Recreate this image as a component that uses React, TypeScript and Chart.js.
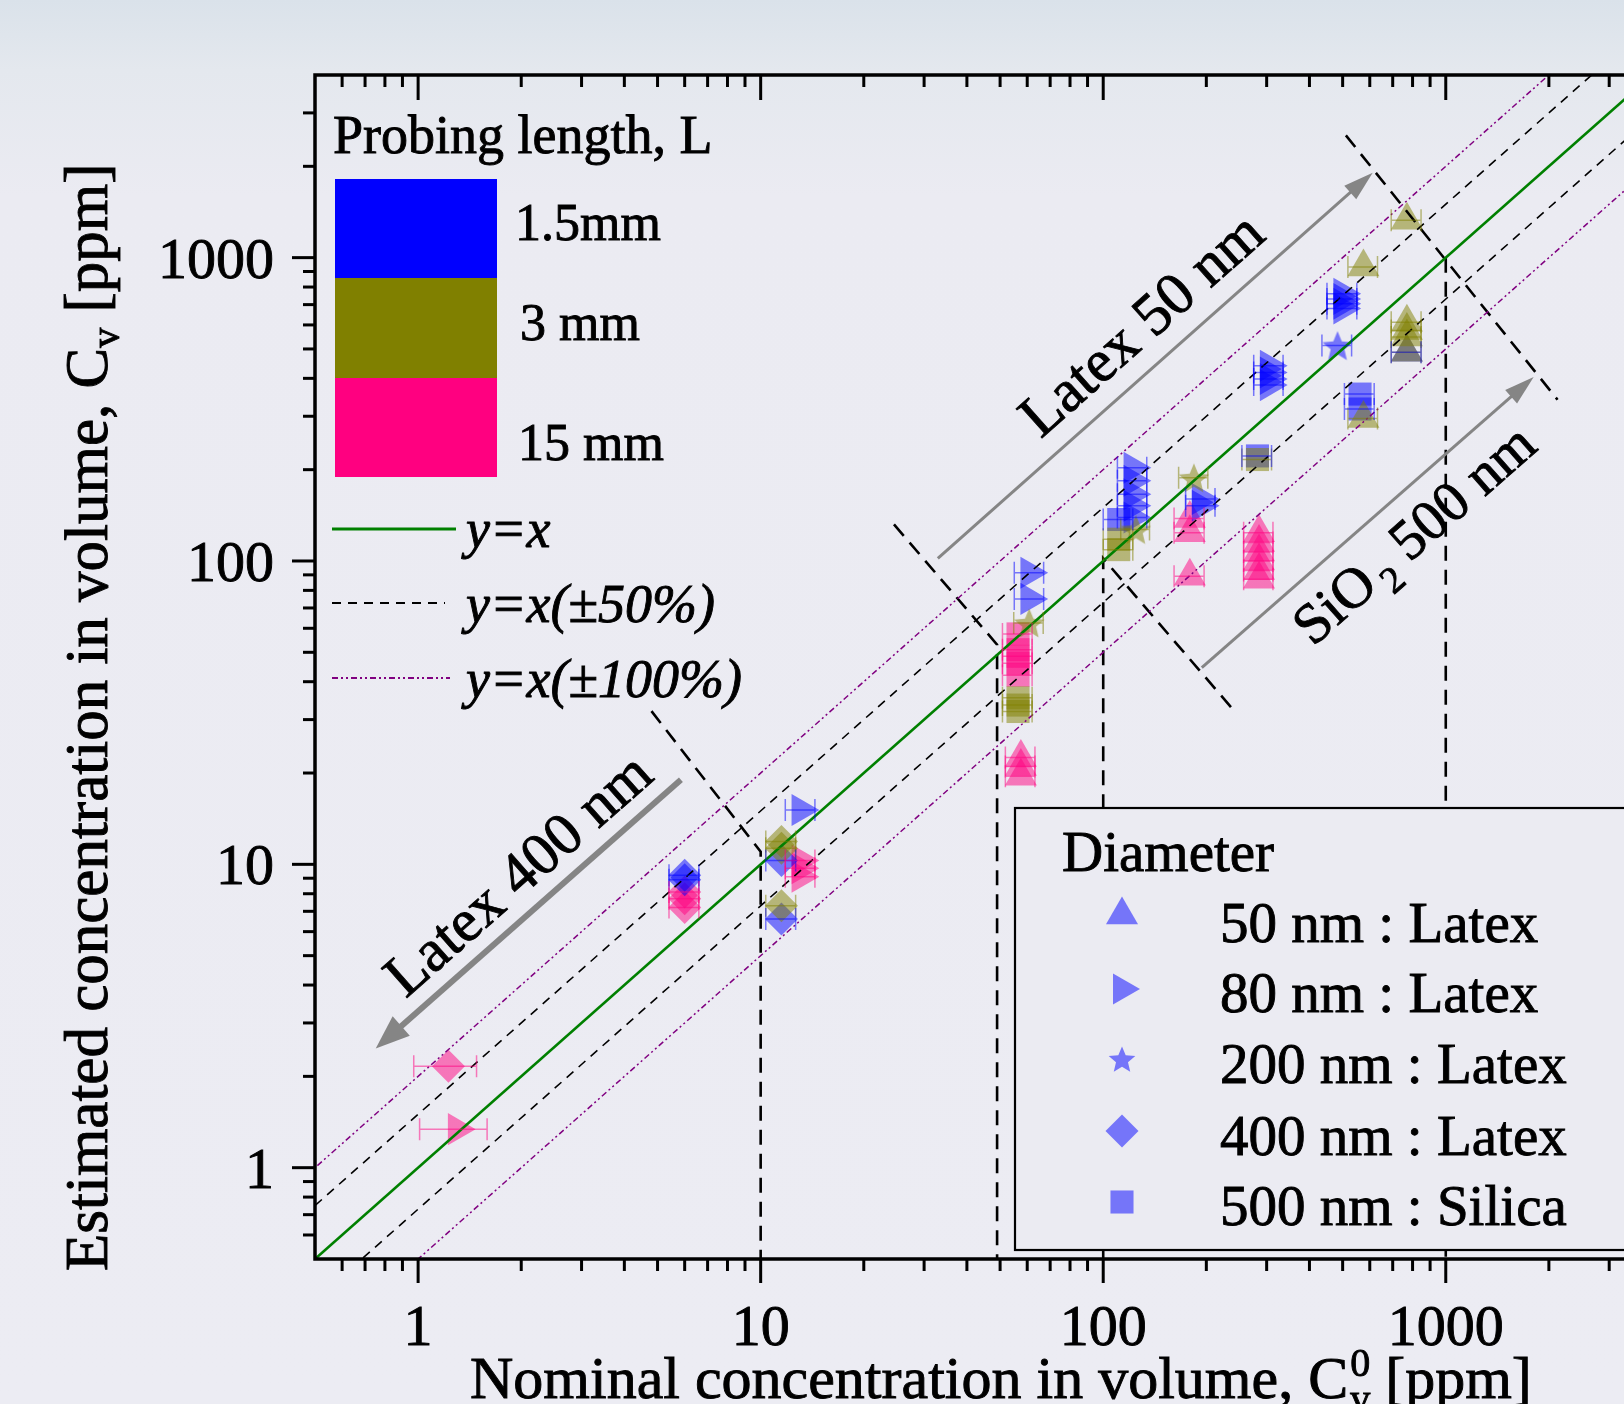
import React, { useEffect, useRef } from 'react';
import { Chart, registerables } from 'chart.js';
import { drawPoint } from 'chart.js/helpers';

Chart.register(...registerables);

// ---------------- axes ----------------
const axisMin = 0.5;
const axisMax = 4000;
const majorTicks = [1, 10, 100, 1000];
const majorTickLabels = ['1', '10', '100', '1000'];
const minorTicks = [0.6, 0.7, 0.8, 0.9, 2, 3, 4, 5, 6, 7, 8, 9, 20, 30, 40, 50, 60, 70, 80, 90, 200, 300, 400, 500, 600, 700, 800, 900, 2000, 3000];
const xTitle = ['Nominal concentration in volume, C', '0', 'v', ' [ppm]'];
const yTitle = ['Estimated concentration in volume, C', 'v', ' [ppm]'];

// ---------------- series: [nominal x, estimated y, ± x error] ----------------
// L = 1.5 mm (blue)
const blue50nm = [[770, 488, 77]];
const blue80nm = [
  [13.1, 15.1, 1.3], [61, 91.5, 6], [61, 75, 6],
  [122, 203, 12], [122, 184, 12], [122, 166, 12], [122, 152, 12], [122, 139, 12],
  [193, 160, 19], [193, 152, 19],
  [305, 440, 30], [305, 418, 30], [305, 398, 30], [305, 380, 30],
  [500, 760, 50], [500, 730, 50], [500, 705, 50], [500, 680, 50],
];
const blue200nm = [[483, 513, 48]];
const blue400nm = [[6, 9.2, 0.6], [6, 8.9, 0.6], [11.5, 10.3, 1.15], [11.5, 6.6, 1.15]];
const blue500nm = [[111, 137, 11], [282, 222, 28], [562, 355, 56], [562, 317, 56]];
// L = 3 mm (olive)
const olive50nm = [[575, 931, 57], [770, 1327, 77], [770, 612, 77], [770, 575, 77], [770, 547, 77], [770, 488, 77], [575, 295, 57]];
const olive200nm = [[60.8, 62.5, 6], [124.5, 127, 12], [184, 188, 18]];
const olive400nm = [[11.5, 11.9, 1.15], [11.5, 11.3, 1.15], [11.5, 7.3, 1.15]];
const olive500nm = [[56.4, 35.4, 5.6], [56.4, 33.5, 5.6], [56.4, 31.9, 5.6], [111, 118, 11], [111, 109, 11], [282, 216, 28]];
// L = 15 mm (pink)
const pink50nm = [
  [57.5, 22.5, 5.7], [57.5, 21, 5.7], [57.5, 19.5, 5.7],
  [179, 138, 18], [179, 124, 18], [179, 89, 18],
  [285, 124, 28], [285, 115, 28], [285, 107, 28], [285, 100, 28], [285, 93, 28], [285, 87, 28],
];
const pink80nm = [[13.1, 10.3, 1.3], [13.1, 9.7, 1.3], [13.1, 9.1, 1.3], [1.3, 1.34, 0.29]];
const pink400nm = [[6, 8.1, 0.6], [6, 7.7, 0.6], [6, 7.2, 0.6], [1.226, 2.16, 0.255]];
const pink500nm = [[56.4, 57.5, 5.6], [56.4, 51, 5.6], [56.4, 48.5, 5.6], [56.4, 46, 5.6], [56.4, 42, 5.6]];

// ---------------- reference lines y = k x ----------------
const refLineX = [0.1, 10000];
const equalityFactor = 1;
const band50Factors = [1.5, 0.73];
const band100Factors = [2, 0.5];

// ---------------- group separators and arrows (data coordinates) ----------------
const separator10 = [[4.8, 32], [10, 11], [10, 0.5]];
const separator50 = [[24.5, 132], [49, 53], [49, 0.5]];
const separator100 = [[236, 33], [100, 102], [100, 0.5]];
const separator1000Diag = [[511, 2530], [2120, 340]];
const separator1000Vert = [[1000, 1000], [1000, 0.5]];
const arrowLatex50 = [[32.9, 102], [612, 1906]];
const arrowSiO2 = [[194, 44.5], [1806, 404]];
const arrowLatex400 = [[5.85, 19], [0.752, 2.47]];
const labelLatex50 = [65.7, 252];
const labelSiO2 = [410, 52];
const labelLatex400 = [0.92, 3.6];

// ---------------- legends ----------------
const probingTitle = 'Probing length, L';
const probingLabels = ['1.5mm', '3 mm', '15 mm'];
const lineLegendLabels = ['y=x', 'y=x(\u00b150%)', 'y=x(\u00b1100%)'];
const diameterTitle = 'Diameter';
const diameterLabels = ['50 nm : Latex', '80 nm : Latex', '200 nm : Latex', '400 nm : Latex', '500 nm : Silica'];

// ---------------- style ----------------
const FONT = '"Liberation Serif", "Times New Roman", Times, serif';
const f = (size: number, style = '') => `${style} ${size}px ${FONT}`.trim();
const BLUE = 'rgba(0,0,255,0.5)';
const OLIVE = 'rgba(128,128,0,0.5)';
const PINK = 'rgba(255,0,128,0.5)';
const SOLID = ['#0000ff', '#808000', '#ff0080'];
const BG = 'rgb(235,235,242)';
const GREEN = '#008000';
const PURPLE = '#800080';
const PURPLE_DASH = [6, 3, 2, 3, 2, 3];
const BLACK_DASH = [9, 7];
const SEP_DASH = [15, 9];
const TEXT_STROKE = 0.9;

function makeStar(color: string, size: number) {
  const c = document.createElement('canvas');
  c.width = size;
  c.height = size;
  const g = c.getContext('2d')!;
  const cx = size / 2, cy = size / 2 + size * 0.05;
  const R = size / 2, r = R * 0.45;
  g.beginPath();
  for (let i = 0; i < 10; i++) {
    const a = -Math.PI / 2 + (i * Math.PI) / 5;
    const rr = i % 2 === 0 ? R : r;
    g.lineTo(cx + rr * Math.cos(a), cy + rr * Math.sin(a));
  }
  g.closePath();
  g.fillStyle = color;
  g.fill();
  return c;
}

const pts = (arr: number[][]) => arr.map((p) => ({ x: p[0], y: p[1] }));

function markerSet(arr: number[][], color: string, style: any, radius: number, rotation = 0) {
  return {
    data: pts(arr),
    errX: arr.map((p) => p[2]),
    errColor: color,
    backgroundColor: color,
    borderWidth: 0,
    pointStyle: style,
    pointRadius: radius,
    pointHoverRadius: radius,
    pointRotation: rotation,
    showLine: false,
    order: 2,
  };
}

function lineSet(arr: number[][], color: string, width: number, dash: number[]) {
  return {
    data: pts(arr),
    borderColor: color,
    backgroundColor: color,
    borderWidth: width,
    borderDash: dash,
    pointRadius: 0,
    showLine: true,
    fill: false,
    tension: 0,
    order: 1,
  };
}

const refLine = (k: number) => refLineX.map((x) => [x, x * k]);

function drawArrow(ctx: CanvasRenderingContext2D, x0: number, y0: number, x1: number, y1: number, w: number, hl: number, hw: number) {
  const ang = Math.atan2(y1 - y0, x1 - x0);
  const bx = x1 - hl * Math.cos(ang), by = y1 - hl * Math.sin(ang);
  ctx.lineWidth = w;
  ctx.lineCap = 'butt';
  ctx.beginPath();
  ctx.moveTo(x0, y0);
  ctx.lineTo(bx + Math.cos(ang) * 2, by + Math.sin(ang) * 2);
  ctx.stroke();
  ctx.beginPath();
  ctx.moveTo(x1, y1);
  ctx.lineTo(bx + hw * Math.sin(ang), by - hw * Math.cos(ang));
  ctx.lineTo(bx - hw * Math.sin(ang), by + hw * Math.cos(ang));
  ctx.closePath();
  ctx.fill();
}

function fillText(ctx: CanvasRenderingContext2D, s: string, x: number, y: number) {
  ctx.fillText(s, x, y);
  ctx.save();
  ctx.lineWidth = TEXT_STROKE;
  ctx.strokeStyle = ctx.fillStyle as string;
  ctx.setLineDash([]);
  ctx.strokeText(s, x, y);
  ctx.restore();
}

type Piece = { t: string; size: number; dy: number; style?: string; gap?: number };
function drawPieces(ctx: CanvasRenderingContext2D, pieces: Piece[], x: number, y: number, angle: number) {
  ctx.save();
  ctx.translate(x, y);
  ctx.rotate(angle);
  ctx.textAlign = 'left';
  ctx.textBaseline = 'alphabetic';
  let cx = 0;
  for (const p of pieces) {
    ctx.font = f(p.size, p.style || '');
    cx += p.gap || 0;
    fillText(ctx, p.t, cx, p.dy);
    cx += ctx.measureText(p.t).width;
  }
  ctx.restore();
}

export default function App() {
  const ref = useRef<HTMLCanvasElement>(null);

  useEffect(() => {
    const canvas = ref.current!;
    const starData = [makeStar(BLUE, 32), makeStar(OLIVE, 32), makeStar(PINK, 32)];
    const starLegend = makeStar(BLUE, 28);

    const datasets: any[] = [
      lineSet(refLine(equalityFactor), GREEN, 2.6, []),
      lineSet(refLine(band50Factors[0]), '#000', 1.6, BLACK_DASH),
      lineSet(refLine(band50Factors[1]), '#000', 1.6, BLACK_DASH),
      lineSet(refLine(band100Factors[0]), PURPLE, 1.5, PURPLE_DASH),
      lineSet(refLine(band100Factors[1]), PURPLE, 1.5, PURPLE_DASH),
      lineSet(separator10, '#000', 2.6, SEP_DASH),
      lineSet(separator50, '#000', 2.6, SEP_DASH),
      lineSet(separator100, '#000', 2.6, SEP_DASH),
      lineSet(separator1000Diag, '#000', 2.6, SEP_DASH),
      lineSet(separator1000Vert, '#000', 2.6, SEP_DASH),

      markerSet(olive500nm, OLIVE, 'rect', 16.3),
      markerSet(olive400nm, OLIVE, 'rectRot', 16.5),
      markerSet(olive200nm, OLIVE, starData[1], 16),
      markerSet(olive50nm, OLIVE, 'triangle', 18.5),
      markerSet(blue500nm, BLUE, 'rect', 16.3),
      markerSet(blue400nm, BLUE, 'rectRot', 16.5),
      markerSet(blue200nm, BLUE, starData[0], 16),
      markerSet(blue80nm, BLUE, 'triangle', 18.5, 90),
      markerSet(blue50nm, BLUE, 'triangle', 18.5),
      markerSet(pink500nm, PINK, 'rect', 16.3),
      markerSet(pink400nm, PINK, 'rectRot', 16.5),
      markerSet(pink80nm, PINK, 'triangle', 18.5, 90),
      markerSet(pink50nm, PINK, 'triangle', 18.5),
    ];

    const decor = {
      id: 'figureDecor',
      afterDatasetsDraw(chart: any) {
        const { ctx, chartArea: a } = chart;
        const xs = chart.scales.x, ys = chart.scales.y;
        ctx.save();
        ctx.beginPath();
        ctx.rect(a.left, a.top, a.right - a.left, a.bottom - a.top);
        ctx.clip();
        ctx.lineWidth = 1.5;
        for (const ds of chart.data.datasets) {
          if (!ds.errX) continue;
          ctx.strokeStyle = ds.errColor;
          ds.data.forEach((p: any, i: number) => {
            const e = ds.errX[i];
            const x0 = xs.getPixelForValue(p.x - e);
            const x1 = xs.getPixelForValue(p.x + e);
            const y = ys.getPixelForValue(p.y);
            ctx.beginPath();
            ctx.moveTo(x0, y); ctx.lineTo(x1, y);
            ctx.moveTo(x0, y - 11); ctx.lineTo(x0, y + 11);
            ctx.moveTo(x1, y - 11); ctx.lineTo(x1, y + 11);
            ctx.stroke();
          });
        }
        ctx.restore();
      },
      afterDraw(chart: any) {
        const { ctx, chartArea: a } = chart;
        const xs = chart.scales.x, ys = chart.scales.y;
        const px = (v: number) => xs.getPixelForValue(v);
        const py = (v: number) => ys.getPixelForValue(v);

        // ---- arrows ----
        ctx.save();
        ctx.strokeStyle = '#858585';
        ctx.fillStyle = '#858585';
        const arrows: [number[][], number, number, number][] = [
          [arrowLatex50, 3, 30, 9],
          [arrowSiO2, 3, 30, 9],
          [arrowLatex400, 6, 34, 13],
        ];
        const angles: number[] = [];
        for (const [ar, w, hl, hw] of arrows) {
          const x0 = px(ar[0][0]), y0 = py(ar[0][1]), x1 = px(ar[1][0]), y1 = py(ar[1][1]);
          drawArrow(ctx, x0, y0, x1, y1, w, hl, hw);
          const dx = x1 - x0, dy = y1 - y0;
          angles.push(dx >= 0 ? Math.atan2(dy, dx) : Math.atan2(-dy, -dx));
        }
        ctx.restore();

        // ---- arrow labels ----
        ctx.save();
        ctx.fillStyle = '#000';
        drawPieces(ctx, [{ t: 'Latex 50 nm', size: 60, dy: 0 }], px(labelLatex50[0]), py(labelLatex50[1]), angles[0]);
        drawPieces(ctx, [
          { t: 'SiO', size: 57, dy: 0 },
          { t: '2', size: 38, dy: 14, gap: 6 },
          { t: ' 500 nm', size: 57, dy: 0 },
        ], px(labelSiO2[0]), py(labelSiO2[1]), angles[1]);
        drawPieces(ctx, [{ t: 'Latex 400 nm', size: 60, dy: 0 }], px(labelLatex400[0]), py(labelLatex400[1]), angles[2]);
        ctx.restore();

        // ---- frame and ticks ----
        ctx.save();
        ctx.strokeStyle = '#000';
        ctx.lineWidth = 3.5;
        ctx.strokeRect(a.left, a.top, a.right - a.left, a.bottom - a.top);
        ctx.lineWidth = 3;
        ctx.lineCap = 'butt';
        const seg = (x0: number, y0: number, x1: number, y1: number) => {
          ctx.beginPath(); ctx.moveTo(x0, y0); ctx.lineTo(x1, y1); ctx.stroke();
        };
        for (const v of minorTicks) {
          const x = px(v), y = py(v);
          seg(x, a.bottom, x, a.bottom + 12);
          seg(x, a.top, x, a.top + 12);
          seg(a.left - 12, y, a.left, y);
          seg(a.right, y, a.right - 12, y);
        }
        for (const v of majorTicks) {
          const x = px(v), y = py(v);
          seg(x, a.bottom, x, a.bottom + 24);
          seg(x, a.top, x, a.top + 25);
          seg(a.left - 23, y, a.left, y);
          seg(a.right, y, a.right - 24, y);
        }
        // tick labels
        ctx.fillStyle = '#000';
        ctx.font = f(58);
        ctx.textBaseline = 'alphabetic';
        majorTicks.forEach((v, i) => {
          ctx.textAlign = 'center';
          fillText(ctx, majorTickLabels[i], px(v), a.bottom + 86);
          ctx.textAlign = 'right';
          fillText(ctx, majorTickLabels[i], a.left - 41, py(v) + 20);
        });
        ctx.textAlign = 'left';
        // axis titles
        ctx.font = f(60);
        const xMainW = ctx.measureText(xTitle[0]).width;
        drawPieces(ctx, [{ t: xTitle[0], size: 60, dy: 0 }], 470, a.bottom + 139, 0);
        drawPieces(ctx, [{ t: xTitle[1], size: 40, dy: -22 }], 470 + xMainW + 2, a.bottom + 139, 0);
        drawPieces(ctx, [{ t: xTitle[2], size: 40, dy: 14 }], 470 + xMainW + 2, a.bottom + 139, 0);
        drawPieces(ctx, [{ t: xTitle[3], size: 60, dy: 0 }], 470 + xMainW + 22, a.bottom + 139, 0);
        drawPieces(ctx, [
          { t: yTitle[0], size: 61, dy: 0 },
          { t: yTitle[1], size: 40, dy: 12 },
          { t: yTitle[2], size: 61, dy: 0 },
        ], 107, 1271, -Math.PI / 2);
        ctx.restore();

        // ---- probing length legend ----
        ctx.save();
        ctx.fillStyle = '#000';
        ctx.font = f(54);
        ctx.textAlign = 'left';
        fillText(ctx, probingTitle, 333, 153);
        const blockTops = [179, 278, 378];
        const blockH = [99, 100, 99];
        const labelPos = [[515, 240], [520, 340], [518, 460]];
        probingLabels.forEach((lab, i) => {
          ctx.fillStyle = SOLID[i];
          ctx.fillRect(335, blockTops[i], 162, blockH[i]);
          ctx.fillStyle = '#000';
          ctx.font = f(52);
          fillText(ctx, lab, labelPos[i][0], labelPos[i][1]);
        });
        // line legend
        const lineStyles: [string, number, number[], number][] = [
          [GREEN, 3, [], 456],
          ['#000', 1.8, BLACK_DASH, 445],
          [PURPLE, 1.8, PURPLE_DASH, 450],
        ];
        const lineY = [529, 603, 678];
        const textY = [547, 622, 697];
        lineLegendLabels.forEach((lab, i) => {
          const [c, w, d, x1] = lineStyles[i];
          ctx.strokeStyle = c;
          ctx.lineWidth = w;
          ctx.setLineDash(d);
          ctx.beginPath(); ctx.moveTo(332, lineY[i]); ctx.lineTo(x1, lineY[i]); ctx.stroke();
          ctx.setLineDash([]);
          ctx.fillStyle = '#000';
          ctx.font = f(54, 'italic');
          fillText(ctx, lab, 466, textY[i]);
        });
        ctx.restore();

        // ---- diameter legend ----
        ctx.save();
        ctx.fillStyle = BG;
        ctx.fillRect(1015, 808, 800, 442);
        ctx.strokeStyle = '#000';
        ctx.lineWidth = 2.2;
        ctx.strokeRect(1015, 808, 800, 442);
        ctx.fillStyle = '#000';
        ctx.font = f(57);
        ctx.textAlign = 'left';
        fillText(ctx, diameterTitle, 1062, 871);
        const markerStyles: any[] = [
          { pointStyle: 'triangle', rotation: 0, radius: 18.5 },
          { pointStyle: 'triangle', rotation: 90, radius: 18 },
          { pointStyle: starLegend, rotation: 0, radius: 13 },
          { pointStyle: 'rectRot', rotation: 0, radius: 16.5 },
          { pointStyle: 'rect', rotation: 0, radius: 16.3 },
        ];
        const rowMarkerY = [915, 989, 1059, 1131, 1202];
        const rowTextY = [942, 1012, 1083, 1155, 1225];
        diameterLabels.forEach((lab, i) => {
          ctx.fillStyle = BLUE;
          drawPoint(ctx, { ...markerStyles[i], borderWidth: 0 }, 1122, rowMarkerY[i]);
          ctx.fillStyle = '#000';
          ctx.font = f(57);
          fillText(ctx, lab, 1220, rowTextY[i]);
        });
        ctx.restore();
      },
    };

    const chart = new Chart(canvas, {
      type: 'scatter',
      data: { datasets },
      options: {
        animation: false,
        responsive: false,
        events: [],
        layout: { padding: { left: 315, top: 75, right: 68, bottom: 145 } },
        plugins: { legend: { display: false }, tooltip: { enabled: false } },
        scales: {
          x: { type: 'logarithmic', min: axisMin, max: axisMax, display: false },
          y: { type: 'logarithmic', min: axisMin, max: axisMax, display: false },
        },
      },
      plugins: [decor],
    } as any);
    return () => chart.destroy();
  }, []);

  return (
    <div
      style={{
        position: 'fixed',
        left: 0,
        top: 0,
        width: 1624,
        height: 1404,
        overflow: 'hidden',
        background: 'linear-gradient(180deg, rgb(218,226,234) 0%, rgb(228,232,238) 5%, rgb(235,235,242) 14%, rgb(236,236,243) 100%)',
      }}
    >
      <canvas ref={ref} width={1720} height={1404} style={{ display: 'block' }} />
    </div>
  );
}
